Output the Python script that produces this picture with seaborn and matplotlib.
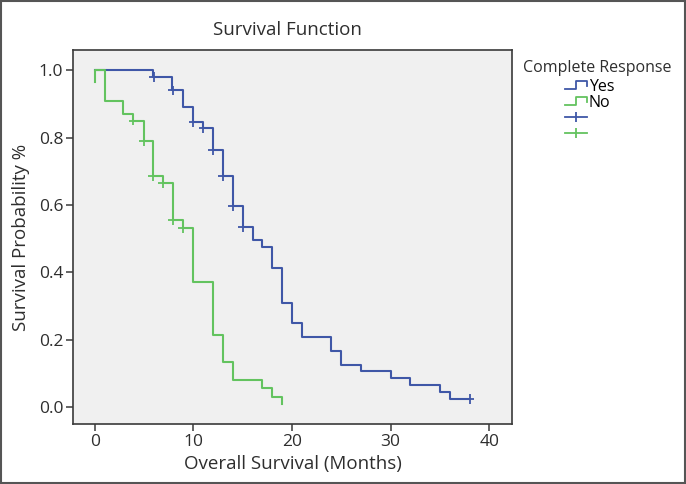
import numpy as np
import pandas as pd
import matplotlib
matplotlib.use('Agg')
import matplotlib.pyplot as plt
import seaborn as sns
from matplotlib.lines import Line2D
from matplotlib.legend_handler import HandlerBase

# Dados (Kaplan-Meier) - grupo "Yes"
tempo_yes = [0, 5.9, 7.8, 8.9, 10.0, 11.0, 12.0, 13.0, 14.0, 15.0, 16.0, 17.0, 18.0,
             19.0, 20.0, 21.0, 24.0, 25.0, 27.0, 30.0, 32.0, 35.0, 36.0, 38.0]
surv_yes = [1.0, 0.98, 0.94, 0.89, 0.845, 0.828, 0.763, 0.685, 0.596, 0.534, 0.496, 0.475,
            0.412, 0.31, 0.25, 0.208, 0.166, 0.125, 0.107, 0.086, 0.065, 0.045, 0.024, 0.024]
cens_t_yes = [6.0, 7.9, 10.0, 11.0, 12.0, 13.0, 14.0, 15.0, 38.0]
cens_s_yes = [0.98, 0.94, 0.845, 0.828, 0.763, 0.685, 0.596, 0.534, 0.024]

# grupo "No"
tempo_no = [0, 0, 1.0, 2.9, 3.9, 5.0, 5.9, 6.9, 7.9, 8.9, 10.0, 12.0, 13.0, 14.0, 17.0, 18.0, 19.0]
surv_no = [0.964, 1.0, 0.908, 0.87, 0.85, 0.79, 0.685, 0.665, 0.555, 0.531, 0.37, 0.214,
           0.134, 0.08, 0.056, 0.03, 0.01]
cens_t_no = [3.9, 5.0, 5.9, 6.9, 7.9, 8.9]
cens_s_no = [0.85, 0.79, 0.685, 0.665, 0.555, 0.531]

cor_yes = '#3f57a7'
cor_no = '#63c35f'
paleta = {'Yes': cor_yes, 'No': cor_no}

df_linha = pd.concat([
    pd.DataFrame({'tempo': tempo_yes, 'surv': surv_yes, 'grupo': 'Yes'}),
    pd.DataFrame({'tempo': tempo_no, 'surv': surv_no, 'grupo': 'No'}),
], ignore_index=True)
df_cens = pd.concat([
    pd.DataFrame({'tempo': cens_t_yes, 'surv': cens_s_yes, 'grupo': 'Yes'}),
    pd.DataFrame({'tempo': cens_t_no, 'surv': cens_s_no, 'grupo': 'No'}),
], ignore_index=True)

plt.rcParams['font.family'] = ['Open Sans', 'DejaVu Sans']
cinza = '#3a3a3a'
texto = '#2e2e2e'

fig = plt.figure(figsize=(6.86, 4.84), dpi=100)
ax = fig.add_axes([73 / 686, 60 / 484, (512 - 73) / 686, (424 - 50) / 484])
ax.set_facecolor('#f0f0f0')

sns.lineplot(data=df_linha, x='tempo', y='surv', hue='grupo', palette=paleta,
             estimator=None, sort=False, drawstyle='steps-post', lw=1.5,
             legend=False, ax=ax)
sns.scatterplot(data=df_cens, x='tempo', y='surv', hue='grupo', palette=paleta,
                marker='+', s=45, linewidth=1.3, legend=False, ax=ax, zorder=3)

ax.set_xlim(-2.2, 42.3)
ax.set_ylim(-0.05, 1.06)
ax.set_xticks([0, 10, 20, 30, 40])
ax.set_yticks([0.0, 0.2, 0.4, 0.6, 0.8, 1.0])
ax.set_yticklabels(['%.1f' % v for v in ax.get_yticks()])
ax.tick_params(colors=cinza, labelsize=12.5, length=5, width=1.1, labelcolor=texto, pad=2)
for sp in ax.spines.values():
    sp.set_color(cinza)
    sp.set_linewidth(1.2)

ax.set_xlabel('Overall Survival (Months)', fontsize=13.5, color=texto, labelpad=4)
ax.set_ylabel('Survival Probability %', fontsize=13.5, color=texto, labelpad=6)
fig.text(287 / 686, 1 - 30 / 484, 'Survival Function', ha='center', va='center',
         fontsize=13.5, color=texto)


class HandlerStep(HandlerBase):
    def create_artists(self, legend, orig_handle, xdescent, ydescent, width, height,
                       fontsize, trans):
        x0 = -xdescent
        meio = x0 + 0.5 * width
        baixo = -ydescent + 0.2 * height
        alto = -ydescent + 0.9 * height
        linha = Line2D([x0, meio, meio, x0 + width, x0 + width],
                       [baixo, baixo, alto, alto, -ydescent + 0.45 * height],
                       color=orig_handle.get_color(), lw=1.3, transform=trans)
        return [linha]


h_yes = Line2D([], [], color=cor_yes)
h_no = Line2D([], [], color=cor_no)
h_cy = Line2D([], [], color=cor_yes, marker='|', markersize=7, mew=1.3, lw=1.3)
h_cn = Line2D([], [], color=cor_no, marker='|', markersize=7, mew=1.3, lw=1.3)

fig.text(597 / 686, 1 - 68 / 484, 'Complete Response', ha='center', va='center',
         fontsize=11.5, color=texto)
fig.legend([h_yes, h_no, h_cy, h_cn], ['Yes', 'No', '', ''],
           handler_map={h_yes: HandlerStep(), h_no: HandlerStep()},
           loc='upper left', bbox_to_anchor=(565 / 686, 1 - 79 / 484),
           frameon=False, fontsize=11.5, handlelength=1.4, handletextpad=0.1,
           labelspacing=0.0, numpoints=1, borderpad=0, borderaxespad=0)

# moldura externa da figura
fig.patches.append(plt.Rectangle((0.002, 0.002), 0.996, 0.996, transform=fig.transFigure,
                                 fill=False, edgecolor='#555555', lw=1.5))

fig.savefig('out.png', dpi=100)
